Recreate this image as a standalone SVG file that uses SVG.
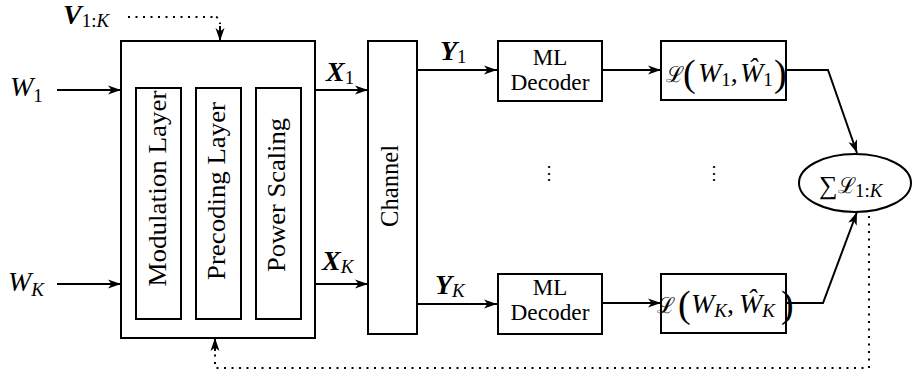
<svg xmlns="http://www.w3.org/2000/svg" width="912" height="379" viewBox="0 0 912 379" font-family="'Liberation Serif', 'DejaVu Serif', serif">
<style>
.box{fill:#fff;stroke:#000;stroke-width:2}
.ln{fill:none;stroke:#000;stroke-width:2}
.dot{fill:none;stroke:#000;stroke-width:2;stroke-dasharray:2 5.5}
text{font-family:'Liberation Serif','DejaVu Serif',serif;fill:#000}
.m{font-style:italic}
.b{font-style:italic;font-weight:bold}
.n{font-style:normal;font-weight:normal}
.i{font-style:italic;font-weight:normal}
.cal{font-family:'DejaVu Serif',serif;font-style:normal}
</style>
<defs>
<marker id="arr" markerUnits="userSpaceOnUse" markerWidth="14" markerHeight="10" refX="13" refY="5" orient="auto">
<path d="M0,0.5 L13,5 L0,9.5 L3.5,5 z" fill="#000"/>
</marker>
</defs>
<g id="connectors">
<line class="ln" x1="57" y1="90" x2="121" y2="90" marker-end="url(#arr)"/>
<line class="ln" x1="57" y1="284" x2="121" y2="284" marker-end="url(#arr)"/>
<line class="ln" x1="315" y1="90" x2="368" y2="90" marker-end="url(#arr)"/>
<line class="ln" x1="315" y1="284" x2="368" y2="284" marker-end="url(#arr)"/>
<line class="ln" x1="417" y1="70" x2="497" y2="70" marker-end="url(#arr)"/>
<line class="ln" x1="417" y1="304" x2="497" y2="304" marker-end="url(#arr)"/>
<line class="ln" x1="602" y1="70" x2="661" y2="70" marker-end="url(#arr)"/>
<line class="ln" x1="602" y1="303" x2="661" y2="303" marker-end="url(#arr)"/>
<polyline class="ln" points="786,70 828,70 857,153" marker-end="url(#arr)"/>
<polyline class="ln" points="786,303 823,303 857,212" marker-end="url(#arr)"/>
<polyline class="dot" points="128,17 216,17"/>
<path class="ln" d="M220,26 L220,41" marker-end="url(#arr)"/>
<path class="dot" d="M216,17 Q220,18 220,24"/>
<polyline class="dot" points="869,216 869,368 215,368 215,352"/>
<path class="ln" d="M215,351 L215,338" marker-end="url(#arr)"/>
<text x="549" y="179" font-size="18" text-anchor="middle">⋮</text>
<text x="714" y="179" font-size="18" text-anchor="middle">⋮</text>
</g>
<g id="labels">
<text class="m" x="10" y="96" font-size="28">W<tspan class="n" font-size="19" dy="6">1</tspan></text>
<text class="m" x="8" y="291" font-size="28">W<tspan font-size="19" dy="5">K</tspan></text>
<text class="b" x="63" y="24" font-size="28">V<tspan class="n" font-size="19" dy="3">1:</tspan><tspan class="i" font-size="19">K</tspan></text>
<text class="b" x="326" y="81" font-size="28">X<tspan class="n" font-size="19" dy="3">1</tspan></text>
<text class="b" x="322" y="270" font-size="28">X<tspan class="i" font-size="19" dy="3">K</tspan></text>
<text class="b" x="440" y="60" font-size="28">Y<tspan class="n" font-size="19" dy="3">1</tspan></text>
<text class="b" x="435" y="294" font-size="28">Y<tspan class="i" font-size="19" dy="3">K</tspan></text>
</g>
<g id="encoder">
<rect class="box" x="121" y="41" width="194" height="297"/>
</g>
<g id="modulation">
<rect class="box" x="136" y="88" width="45" height="231"/>
<text font-size="26" text-anchor="middle" textLength="196" lengthAdjust="spacingAndGlyphs" transform="translate(166,188.5) rotate(-90)">Modulation Layer</text>
</g>
<g id="precoding">
<rect class="box" x="196" y="88" width="45" height="231"/>
<text font-size="26" text-anchor="middle" textLength="178" lengthAdjust="spacingAndGlyphs" transform="translate(225,191) rotate(-90)">Precoding Layer</text>
</g>
<g id="power">
<rect class="box" x="256" y="88" width="45" height="231"/>
<text font-size="26" text-anchor="middle" textLength="154" lengthAdjust="spacingAndGlyphs" transform="translate(285,195) rotate(-90)">Power Scaling</text>
</g>
<g id="channel">
<rect class="box" x="368" y="41" width="49" height="293"/>
<text font-size="26" text-anchor="middle" textLength="82" lengthAdjust="spacingAndGlyphs" transform="translate(398,186) rotate(-90)">Channel</text>
</g>
<g id="decoder1">
<rect class="box" x="498" y="41" width="104" height="60"/>
<text font-size="23" text-anchor="middle" x="550" y="65">ML</text>
<text font-size="23" text-anchor="middle" x="550" y="90" textLength="79" lengthAdjust="spacingAndGlyphs">Decoder</text>
</g>
<g id="decoderK">
<rect class="box" x="498" y="274" width="104" height="60"/>
<text font-size="23" text-anchor="middle" x="550" y="295">ML</text>
<text font-size="23" text-anchor="middle" x="550" y="320" textLength="79" lengthAdjust="spacingAndGlyphs">Decoder</text>
</g>
<g id="loss1">
<rect class="box" x="661" y="41" width="125" height="59"/>
<text class="cal" font-size="22" x="666" y="82">ℒ</text>
<text font-size="38" x="683" y="86">(</text>
<text class="m" font-size="28" x="698" y="82">W<tspan class="n" font-size="19" dy="4">1</tspan><tspan class="n" dy="-4">,</tspan></text>
<text class="m" font-size="28" x="740" y="82">Ŵ<tspan class="n" font-size="19" dy="4">1</tspan></text>
<text font-size="38" x="774" y="86">)</text>
</g>
<g id="lossK">
<rect class="box" x="661" y="274" width="125" height="59"/>
<text class="cal" font-size="22" x="657" y="313">ℒ</text>
<text font-size="38" x="678" y="317">(</text>
<text class="m" font-size="28" x="691" y="313">W<tspan font-size="19" dy="4">K</tspan><tspan class="n" dy="-4">,</tspan></text>
<text class="m" font-size="28" x="739" y="313">Ŵ<tspan font-size="19" dy="4">K</tspan></text>
<text font-size="38" x="781" y="317">)</text>
</g>
<g id="sum">
<ellipse class="box" cx="855" cy="183" rx="56" ry="29"/>
<text font-size="26" x="819" y="194">∑</text>
<text class="cal" font-size="22" x="838" y="193">ℒ</text>
<text font-size="19" x="855" y="197">1:<tspan class="m">K</tspan></text>
</g>
</svg>
